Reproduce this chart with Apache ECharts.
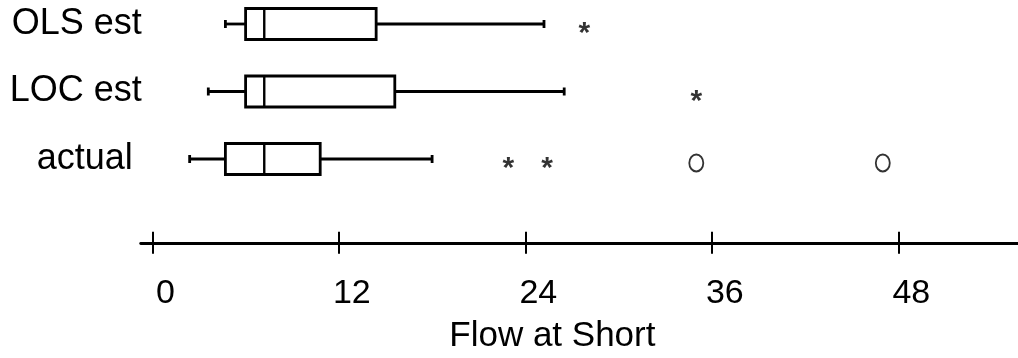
<!DOCTYPE html>
<html>
<head>
<meta charset="utf-8">
<script src="https://cdn.jsdelivr.net/npm/echarts@6/dist/echarts.min.js"></script>
<style>
  html, body { margin: 0; padding: 0; background: #fff; }
  #chart { width: 1018px; height: 358px; }
</style>
</head>
<body>
<div id="chart"></div>
<script>
// ---- data ----
const categories = ['OLS est', 'LOC est', 'actual'];
// [min whisker, Q1, median, Q3, max whisker]
const olsBox = [4.7, 6.0, 7.2, 14.4, 25.2];
const locBox = [3.6, 6.0, 7.2, 15.6, 26.5];
const actualBox = [2.4, 4.7, 7.2, 10.8, 18.0];
// outliers drawn as "*"
const olsStars = [27.8];
const locStars = [35.0];
const actualStars = [22.9, 25.4];
// outliers drawn as "o"
const actualCircles = [35.0, 47.0];
const xTicks = [0, 12, 24, 36, 48];
const xName = 'Flow at Short';

const FONT = "'Liberation Sans', Arial, Helvetica, sans-serif";
const boxes = [olsBox, locBox, actualBox];
const boxData = boxes.map((b, i) => [i].concat(b));
const starData = [];
[olsStars, locStars, actualStars].forEach((arr, i) => arr.forEach(v => starData.push([v, i])));
const circleData = actualCircles.map(v => [v, 2]);

const chart = echarts.init(document.getElementById('chart'), null, { renderer: 'canvas' });

const axisCommon = {
  type: 'value',
  min: -0.75,
  max: 55.7,
  position: 'bottom',
  offset: 50,
  splitLine: { show: false }
};

chart.setOption({
  animation: false,
  backgroundColor: '#fff',
  grid: { left: 140.7, right: 0, top: -9.75, height: 202.5, containLabel: false, outerBoundsMode: 'none' },
  xAxis: [
    Object.assign({}, axisCommon, {
      name: xName,
      nameLocation: 'middle',
      nameGap: 76,
      nameTextStyle: { fontFamily: FONT, fontSize: 35, color: '#000', padding: [0, 54, 0, 0] },
      axisLine: { show: true, lineStyle: { color: '#000', width: 2.8 } },
      axisTick: { show: true, inside: false, length: 11, customValues: xTicks, lineStyle: { color: '#000', width: 2 } },
      axisLabel: { show: true, customValues: xTicks, margin: 34, fontFamily: FONT, fontSize: 34, color: '#000', padding: [0, 0, 0, 26] }
    }),
    Object.assign({}, axisCommon, {
      axisLine: { show: false },
      axisTick: { show: true, inside: true, length: 11, customValues: xTicks, lineStyle: { color: '#000', width: 2 } },
      axisLabel: { show: false }
    })
  ],
  yAxis: {
    type: 'category',
    data: categories,
    inverse: true,
    axisLine: { show: false },
    axisTick: { show: false },
    splitLine: { show: false },
    axisLabel: {
      margin: 0,
      align: 'right',
      fontFamily: FONT,
      fontSize: 36,
      color: '#000',
      formatter: function (v) { return v === 'actual' ? '{b|' + v + '}' : '{a|' + v + '}'; },
      rich: {
        a: { fontFamily: FONT, fontSize: 36, color: '#000', padding: [0, -1, 0, 0] },
        b: { fontFamily: FONT, fontSize: 36, color: '#000', padding: [0, 8, 0, 0] }
      }
    }
  },
  series: [
    {
      type: 'custom',
      xAxisIndex: 0,
      encode: { x: [1, 2, 3, 4, 5], y: 0 },
      data: boxData,
      renderItem: function (params, api) {
        const c = api.value(0);
        const lo = api.coord([api.value(1), c]);
        const q1 = api.coord([api.value(2), c]);
        const md = api.coord([api.value(3), c]);
        const q3 = api.coord([api.value(4), c]);
        const hi = api.coord([api.value(5), c]);
        const y = lo[1];
        const hh = 15.5, cap = 4;
        const st = { stroke: '#000', lineWidth: 2.8, fill: null };
        return {
          type: 'group',
          children: [
            { type: 'line', shape: { x1: lo[0], y1: y, x2: q1[0], y2: y }, style: st },
            { type: 'line', shape: { x1: q3[0], y1: y, x2: hi[0], y2: y }, style: st },
            { type: 'line', shape: { x1: lo[0], y1: y - cap, x2: lo[0], y2: y + cap }, style: st },
            { type: 'line', shape: { x1: hi[0], y1: y - cap, x2: hi[0], y2: y + cap }, style: st },
            { type: 'rect', shape: { x: q1[0], y: y - hh, width: q3[0] - q1[0], height: 2 * hh }, style: { stroke: '#000', lineWidth: 2.8, fill: 'rgba(0,0,0,0)' } },
            { type: 'line', shape: { x1: md[0], y1: y - hh, x2: md[0], y2: y + hh }, style: { stroke: '#000', lineWidth: 2.4 } }
          ]
        };
      }
    },
    {
      type: 'scatter',
      xAxisIndex: 0,
      data: starData,
      symbol: 'circle',
      symbolSize: 1,
      itemStyle: { color: 'rgba(0,0,0,0)' },
      label: {
        show: true,
        position: 'inside',
        formatter: '*',
        fontFamily: FONT,
        fontSize: 30,
        fontWeight: 'bold',
        color: '#000',
        offset: [0, 10]
      }
    },
    {
      type: 'scatter',
      xAxisIndex: 0,
      data: circleData,
      symbol: 'emptyCircle',
      symbolSize: [14, 17],
      symbolOffset: [0, 4],
      itemStyle: { color: '#000', borderColor: '#000', borderWidth: 1.6 }
    }
  ]
});
</script>
</body>
</html>
